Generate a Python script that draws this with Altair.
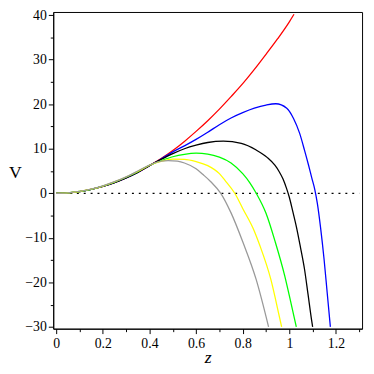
import altair as alt
import pandas as pd

low_z = [0, 0.05, 0.1, 0.15, 0.2, 0.25, 0.3, 0.35]

red_z = low_z + [0.4, 0.45, 0.5, 0.55, 0.6, 0.65, 0.7, 0.75, 0.8, 0.85, 0.9, 0.95, 1.0, 1.02]
red_v = [0, 0.1, 0.38, 0.87, 1.54, 2.4, 3.47, 4.72, 6.2, 7.8, 9.6, 11.65, 13.9, 16.3, 18.9, 21.7,
         24.6, 27.8, 31.2, 34.7, 38.5, 40.2]

blue_z = low_z + [0.4, 0.45, 0.5, 0.55, 0.6, 0.65, 0.7, 0.75, 0.8, 0.85, 0.9, 0.942, 0.989, 1.018,
                  1.044, 1.065, 1.082, 1.096, 1.109, 1.12, 1.134, 1.149, 1.162, 1.176]
blue_v = [0, 0.1, 0.38, 0.87, 1.54, 2.4, 3.46, 4.7, 6.2, 7.7, 9.3, 10.65, 12.1, 13.7, 15.4, 16.9,
          18.1, 19.1, 19.8, 20.1, 19.1, 16.8, 13.5, 9.7, 6.4, 3.5, 0.9, -2.2, -7.7, -14.8, -22.1, -30]

black_z = low_z + [0.4, 0.45, 0.5, 0.55, 0.6, 0.65, 0.717, 0.794, 0.858, 0.906, 0.938, 0.956,
                   0.973, 0.988, 1.0, 1.014, 1.031, 1.048, 1.065, 1.08, 1.095, 1.1]
black_v = [0, 0.1, 0.38, 0.87, 1.54, 2.4, 3.46, 4.7, 6.2, 7.6, 8.9, 10.0, 10.8, 11.4, 11.7, 11.2,
           9.7, 8.0, 6.3, 4.9, 3.2, 1.1, -0.9, -3.9, -7.7, -12.2, -17.0, -22.6, -28.3, -30]

green_z = low_z + [0.4, 0.45, 0.5, 0.55, 0.6, 0.65, 0.7, 0.75, 0.8, 0.83, 0.858, 0.9, 0.94,
                   0.98, 1.0, 1.03]
green_v = [0, 0.1, 0.4, 0.9, 1.6, 2.5, 3.6, 4.85, 6.3, 7.3, 8.2, 8.75, 9.0, 8.8, 8.1, 6.8, 4.4,
           2.4, 0, -4.5, -11.0, -18.5, -23.0, -30]

yellow_z = low_z + [0.4, 0.45, 0.5, 0.55, 0.6, 0.65, 0.7, 0.724, 0.766, 0.8, 0.85, 0.872, 0.921,
                    0.956, 0.967]
yellow_v = [0, 0.1, 0.4, 0.92, 1.63, 2.55, 3.65, 4.9, 6.3, 7.15, 7.65, 7.6, 7.1, 6.2, 4.4, 2.9, 0,
            -3.4, -8.5, -11.5, -19.4, -27.4, -30]

gray_z = low_z + [0.4, 0.45, 0.48, 0.52, 0.55, 0.6, 0.632, 0.663, 0.706, 0.75, 0.801, 0.858, 0.911]
gray_v = [0, 0.1, 0.41, 0.93, 1.66, 2.6, 3.7, 5.0, 6.35, 7.2, 7.35, 7.2, 6.8, 5.5, 4.1, 2.6, 0,
          -4.4, -11.0, -19.4, -30]

series_names = ["red", "blue", "black", "green", "yellow", "gray"]
series_colors = ["#ff0000", "#0000ff", "#000000", "#00ff00", "#ffff00", "#999999"]
series_data = [(red_z, red_v), (blue_z, blue_v), (black_z, black_v), (green_z, green_v),
               (yellow_z, yellow_v), (gray_z, gray_v)]

x_ticks = [round(i * 0.1, 1) for i in range(0, 14)]
y_ticks = list(range(-30, 41, 5))

rows = []
for name, (zs, vs) in zip(series_names, series_data):
    for i, (z, v) in enumerate(zip(zs, vs)):
        rows.append({"series": name, "z": z, "V": v, "i": i})
df = pd.DataFrame(rows)

SERIF = "Liberation Serif, Times New Roman, DejaVu Serif, serif"

xscale = alt.Scale(domain=[-0.0127, 1.312], nice=False, zero=False)
yscale = alt.Scale(domain=[-30.4, 40.7], nice=False, zero=False)

xaxis = alt.Axis(
    values=x_ticks,
    labelExpr="round(datum.value*10) % 2 == 0 ? format(datum.value, '~g') : ''",
    tickSize={"condition": {"test": "round(datum.value*10) % 2 == 0", "value": 5}, "value": 3},
    title="z", titleFontStyle="italic", titleFont=SERIF, titleFontSize=18,
    titleFontWeight="normal", titleY=34, titleBaseline="alphabetic",
    labelFont=SERIF, labelFontSize=14, labelPadding=3, labelFlush=False,
    labelOverlap=False,
)
yaxis = alt.Axis(
    values=y_ticks,
    labelExpr="datum.value % 10 == 0 ? format(datum.value, 'd') : ''",
    tickSize={"condition": {"test": "datum.value % 10 == 0", "value": 5}, "value": 3},
    title="V", titleAngle=0, titleFont=SERIF, titleFontSize=18,
    titleFontWeight="normal", titleX=-39, titleY=163, titleAlign="center",
    titleBaseline="middle",
    labelFont=SERIF, labelFontSize=14, labelPadding=2, labelFlush=False,
    labelOverlap=False,
)

zero_df = pd.DataFrame({"z": [0.0], "z2": [1.3], "V": [0.0]})
zero_line = alt.Chart(zero_df).mark_rule(color="black", strokeDash=[2, 5], strokeWidth=1.3).encode(
    x=alt.X("z:Q", scale=xscale, axis=xaxis),
    x2="z2:Q",
    y=alt.Y("V:Q", scale=yscale, axis=yaxis),
)

lines = alt.Chart(df).mark_line(strokeWidth=1.3, interpolate="monotone", clip=True).encode(
    x=alt.X("z:Q", scale=xscale, axis=xaxis),
    y=alt.Y("V:Q", scale=yscale, axis=yaxis),
    color=alt.Color("series:N", scale=alt.Scale(domain=series_names, range=series_colors),
                    legend=None),
    order="i:Q",
)

chart = alt.layer(zero_line, lines).properties(
    width=314, height=322,
    padding={"left": 46, "top": 1, "right": 4, "bottom": 42},
    autosize=alt.AutoSizeParams(type="none"),
).configure(font=SERIF).configure_view(stroke="black", strokeWidth=1).configure_axis(
    domainColor="black", tickColor="black", labelColor="black", titleColor="black", grid=False,
    domainWidth=1, tickWidth=1, labelFont=SERIF, titleFont=SERIF,
)

chart.save("out.html", embed_options={"renderer": "svg", "actions": False})
